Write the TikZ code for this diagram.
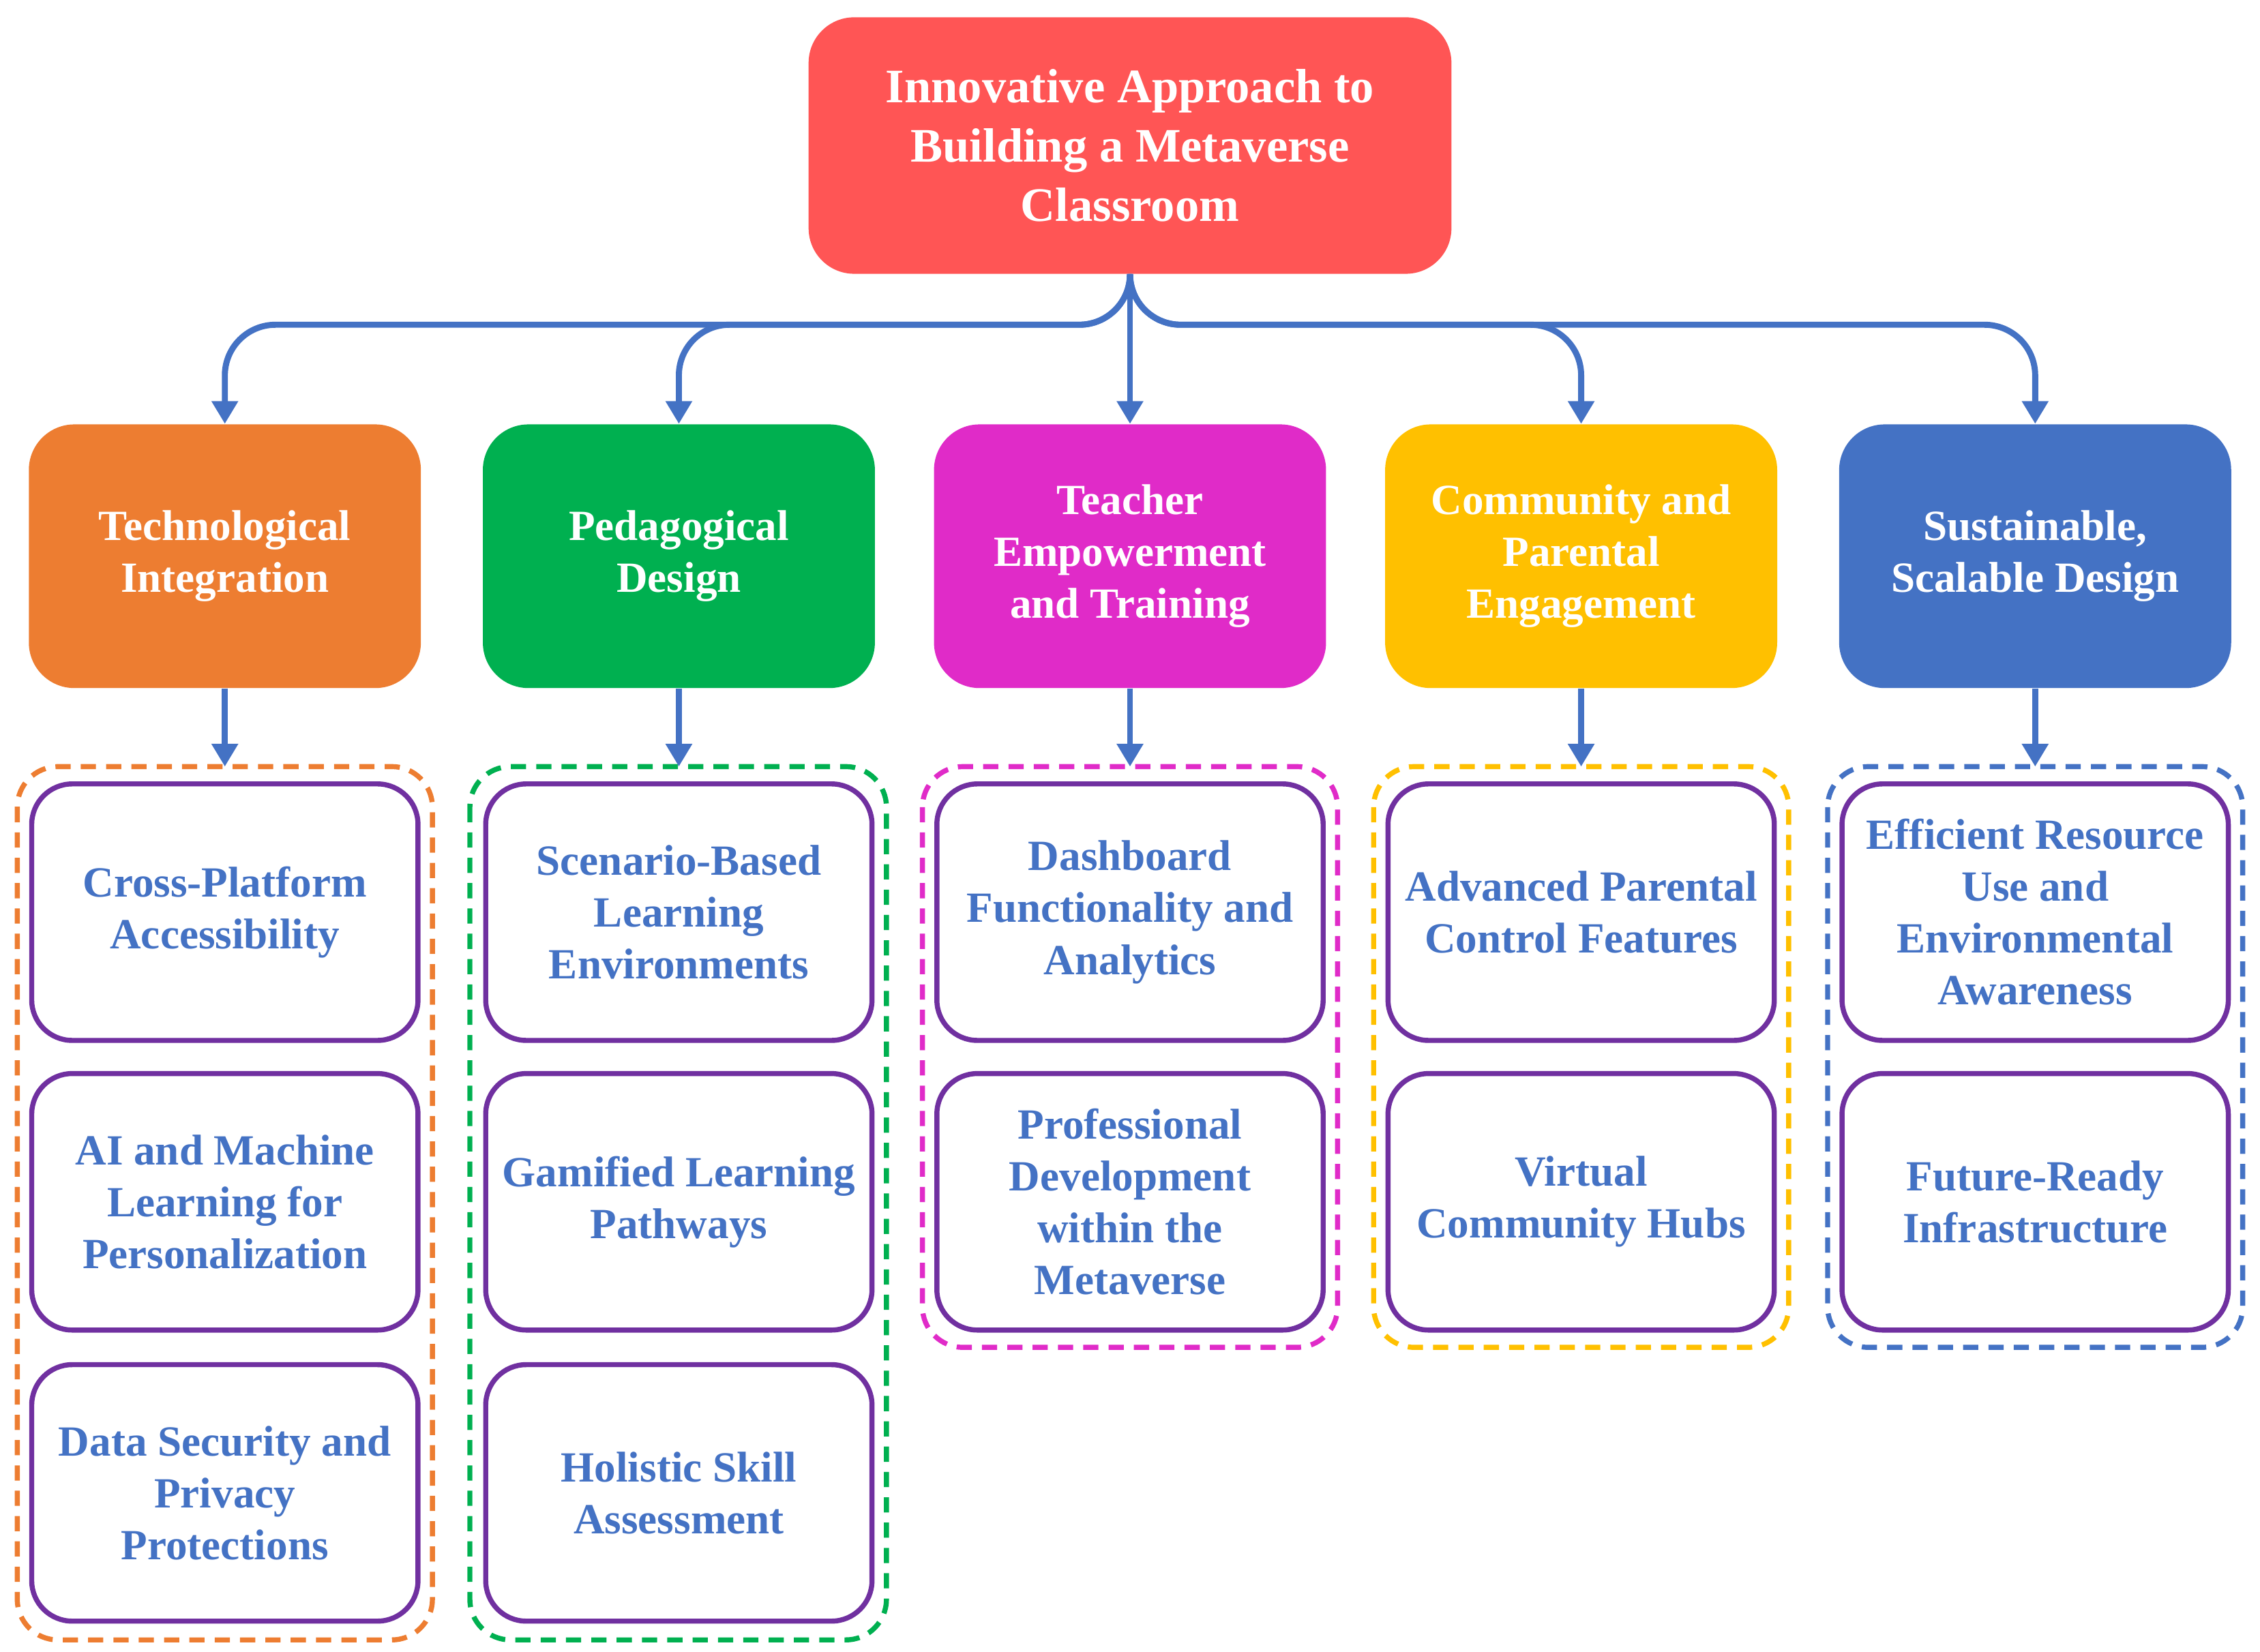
\documentclass[tikz,border=0pt]{standalone}
\usepackage{fontspec}
\setmainfont{Liberation Serif}
\usetikzlibrary{arrows.meta}
\definecolor{cRed}{HTML}{FF5555}
\definecolor{cOrange}{HTML}{ED7D31}
\definecolor{cGreen}{HTML}{00B050}
\definecolor{cMagenta}{HTML}{E02BC8}
\definecolor{cYellow}{HTML}{FFC000}
\definecolor{cBlue}{HTML}{4472C4}
\definecolor{cPurple}{HTML}{7030A0}
\tikzset{
  top/.style={rectangle, rounded corners=18pt, fill=cRed, text=white, font=\bfseries\fontsize{19}{23.5}\selectfont,
    align=center, minimum width=446*0.02cm, minimum height=178*0.02cm},
  cat/.style={rectangle, rounded corners=18pt, fill=#1, text=white, font=\bfseries\fontsize{17}{20.5}\selectfont,
    align=center, minimum width=272*0.02cm, minimum height=183*0.02cm},
  leaf/.style={rectangle, rounded corners=16pt, draw=cPurple, line width=2pt, fill=white, text=cBlue,
    font=\bfseries\fontsize{17}{20.5}\selectfont, align=center, minimum width=268*0.02cm, minimum height=178*0.02cm},
  grp/.style={draw=#1, dashed, line width=2pt, rounded corners=16pt, dash pattern=on 6pt off 4pt},
  arr/.style={draw=cBlue, line width=2.4pt, -{Triangle[length=9pt,width=10pt]}},
}
\begin{document}
\begin{tikzpicture}[x=0.02cm, y=-0.02cm]
\useasboundingbox (0,0) rectangle (1568,1146);
\node[top] (root) at (784,101) {Innovative Approach to\\Building a Metaverse\\Classroom};

\node[cat=cOrange] (c1) at (156,386) {Technological\\Integration};
\node[cat=cGreen] (c2) at (471,386) {Pedagogical\\Design};
\node[cat=cMagenta] (c3) at (784,386) {Teacher\\Empowerment\\and Training};
\node[cat=cYellow] (c4) at (1097,386) {Community and\\Parental\\Engagement};
\node[cat=cBlue] (c5) at (1412,386) {Sustainable,\\Scalable Design};

\foreach \c in {c1,c2,c3,c4,c5}
  \draw[arr, rounded corners=20pt] (root.south) -- ++(0,35) -| (\c.north);

% dashed groups
\draw[grp=cOrange] (12,532) rectangle (300,1138);
\draw[grp=cGreen] (326,532) rectangle (615,1138);
\draw[grp=cMagenta] (640,532) rectangle (928,935);
\draw[grp=cYellow] (953,532) rectangle (1241,935);
\draw[grp=cBlue] (1268,532) rectangle (1556,935);

\coordinate (g1) at (156,532);
\coordinate (g2) at (471,532);
\coordinate (g3) at (784,532);
\coordinate (g4) at (1097,532);
\coordinate (g5) at (1412,532);
\foreach \i in {1,...,5}
  \draw[arr] (c\i.south) -- (g\i);

\node[leaf] (l11) at (156,633) {Cross-Platform\\Accessibility};
\node[leaf] (l12) at (156,834) {AI and Machine\\Learning for\\Personalization};
\node[leaf] (l13) at (156,1036) {Data Security and\\Privacy\\Protections};
\node[leaf] (l21) at (471,633) {Scenario-Based\\Learning\\Environments};
\node[leaf] (l22) at (471,834) {Gamified Learning\\Pathways};
\node[leaf] (l23) at (471,1036) {Holistic Skill\\Assessment};
\node[leaf] (l31) at (784,633) {Dashboard\\Functionality and\\Analytics};
\node[leaf] (l32) at (784,834) {Professional\\Development\\within the\\Metaverse};
\node[leaf] (l41) at (1097,633) {Advanced Parental\\Control Features};
\node[leaf] (l42) at (1097,834) {Virtual\\Community Hubs};
\node[leaf] (l51) at (1412,633) {Efficient Resource\\Use and\\Environmental\\Awareness};
\node[leaf] (l52) at (1412,834) {Future-Ready\\Infrastructure};
\end{tikzpicture}
\end{document}
